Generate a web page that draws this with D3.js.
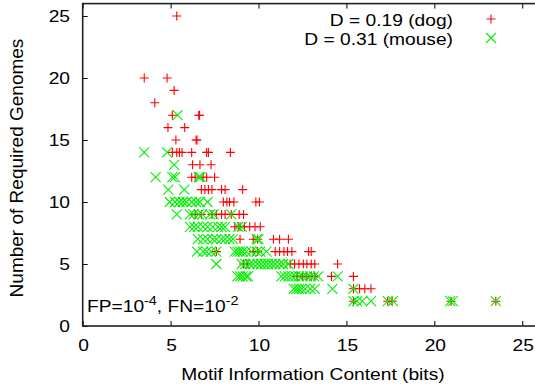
<!DOCTYPE html>
<html><head><meta charset="utf-8">
<script src="https://cdn.jsdelivr.net/npm/d3@7"></script>
<style>
html,body{margin:0;padding:0;background:#fff;}
svg text{font-family:"Liberation Sans",Arial,Helvetica,sans-serif;fill:#000;}
</style></head>
<body><svg id="c" width="535" height="386"></svg>
<script>
// Data: [information content (bits), number of required genomes]
const dogPoints = [
  [5.35,25],
  [3.5,20],[4.8,20],
  [5.2,19],
  [4.1,18],
  [5.1,17],[6.6,17],[6.65,17],
  [4.85,16],[5.8,16],
  [5.3,15],[6.45,15],[6.5,15],
  [5.1,14],[5.35,14],[5.5,14],[5.65,14],[6.2,14],[7.05,14],[7.15,14],[8.4,14],
  [6.25,13],[6.67,13],[7.3,13],
  [6.2,12],[6.4,12],[6.85,12],[7.05,12],[7.5,12],
  [6.75,11],[6.95,11],[7.15,11],[7.35,11],[7.9,11],[8.1,11],[9.1,11],
  [8.0,10],[8.2,10],[8.35,10],[8.6,10],[9.85,10],[10.05,10],
  [6.4,9],[6.75,9],[7.35,9],[7.6,9],[7.9,9],[8.1,9],[8.45,9],[8.9,9],[9.15,9],
  [8.65,8],[8.85,8],[8.95,8],[9.2,8],[9.5,8],[9.8,8],[10.1,8],
  [8.95,7],[9.7,7],[9.95,7],[10.85,7],[11.2,7],[11.7,7],
  [7.6,6],[9.7,6],[9.95,6],[10.95,6],[11.2,6],[11.45,6],[11.65,6],[11.9,6],[12.85,6],[13.0,6],
  [9.15,5],[9.35,5],[11.8,5],[12.05,5],[12.3,5],[12.55,5],[12.75,5],[13.0,5],[13.2,5],[14.5,5],
  [12.2,4],[12.5,4],[12.75,4],[13.0,4],[13.2,4],[14.15,4],[15.4,4],
  [15.4,3],[15.75,3],[16.05,3],[16.4,3],
  [15.4,2],[17.35,2],[17.6,2],[20.95,2],[23.5,2]
];
const mousePoints = [
  [5.4,17],
  [3.5,14],[4.8,14],
  [5.2,13],
  [4.15,12],[5.1,12],[5.25,12],[6.6,12],[6.7,12],
  [4.87,11],[5.78,11],
  [4.95,10],[5.25,10],[5.5,10],[5.7,10],[5.9,10],[6.2,10],[6.45,10],[6.65,10],[7.1,10],
  [5.35,9],[6.1,9],[6.3,9],[6.6,9],[6.8,9],[7.25,9],[7.45,9],[8.45,9],
  [6.1,8],[6.35,8],[6.55,8],[6.85,8],[7.1,8],[7.4,8],[7.7,8],[7.9,8],[8.1,8],[8.85,8],[9.05,8],
  [6.55,7],[6.85,7],[7.1,7],[7.4,7],[7.6,7],[7.9,7],[8.1,7],[8.35,7],[8.55,7],[9.9,7],[10.0,7],
  [6.5,6],[6.85,6],[7.05,6],[7.3,6],[7.6,6],[8.65,6],[8.8,6],[8.95,6],[9.1,6],[9.3,6],[9.6,6],[9.9,6],[10.1,6],[10.45,6],
  [7.6,5],[9.05,5],[9.25,5],[9.5,5],[9.7,5],[9.95,5],[10.15,5],[10.35,5],[10.55,5],[10.75,5],[10.95,5],[11.2,5],[11.4,5],[11.7,5],
  [8.8,4],[8.95,4],[9.1,4],[9.3,4],[9.4,4],[11.3,4],[11.5,4],[11.7,4],[11.9,4],[12.1,4],[12.3,4],[12.5,4],[12.75,4],[12.95,4],[13.15,4],[13.4,4],[14.5,4],
  [12.0,3],[12.15,3],[12.3,3],[12.45,3],[12.65,3],[12.95,3],[13.2,3],[14.2,3],[15.4,3],
  [15.4,2],[15.6,2],[15.9,2],[16.4,2],[17.35,2],[17.65,2],[20.9,2],[21.05,2],[23.5,2]
];
const xTicks = [0,5,10,15,20,25];
const yTicks = [0,5,10,15,20,25];
const seriesLabels = ["D = 0.19 (dog)", "D = 0.31 (mouse)"];
const xTitle = "Motif Information Content (bits)";
const yTitle = "Number of Required Genomes";

const svg = d3.select("#c");
const SX = 1.2; // horizontal stretch of the reference
const x = d3.scaleLinear().domain([0,26]).range([82.7, 539.8]);
const y = d3.scaleLinear().domain([0,26]).range([326, 3.6]);

function txt(g, s, px, py, anchor, size) {
  return g.append("text")
    .attr("transform", `translate(${px},${py}) scale(${SX},1)`)
    .attr("text-anchor", anchor).attr("font-size", size).text(s);
}

// points
const gp = svg.append("g");
const plusPath = "M-4.5,0H4.5M0,-4.5V4.5";
const crossPath = "M-5,-5L5,5M-5,5L5,-5";
gp.selectAll("path.dog").data(dogPoints).join("path").attr("class","dog")
  .attr("d", plusPath).attr("transform", d => `translate(${x(d[0])},${y(d[1])})`)
  .attr("stroke", "#ff0000").attr("stroke-width", 1.1).attr("fill","none");
gp.selectAll("path.mouse").data(mousePoints).join("path").attr("class","mouse")
  .attr("d", crossPath).attr("transform", d => `translate(${x(d[0])},${y(d[1])})`)
  .attr("stroke", "#00f000").attr("stroke-width", 1.1).attr("fill","none");

// axes ticks (inward)
const gxB = svg.append("g").attr("transform", `translate(0,${y(0)})`)
  .call(d3.axisBottom(x).tickValues(xTicks).tickSize(-5).tickFormat(""));
const gxT = svg.append("g").attr("transform", `translate(0,${y(26)})`)
  .call(d3.axisTop(x).tickValues(xTicks).tickSize(-5).tickFormat(""));
const gyL = svg.append("g").attr("transform", `translate(${x(0)},0)`)
  .call(d3.axisLeft(y).tickValues(yTicks).tickSize(-5).tickFormat(""));
[gxB,gxT,gyL].forEach(g => { g.select(".domain").remove(); g.selectAll("line").attr("stroke","#000").attr("stroke-width",1); });

// frame
svg.append("rect").attr("x", x(0)).attr("y", y(26)).attr("width", x(26)-x(0)).attr("height", y(0)-y(26))
  .attr("fill","none").attr("stroke","#222").attr("stroke-width",1.6);

// tick labels
xTicks.forEach(v => txt(svg, String(v), x(v)+1, 351, "middle", 16));
yTicks.forEach(v => txt(svg, String(v), 70, y(v)+6, "end", 16));

// axis titles
txt(svg, xTitle, 313, 380, "middle", 16);
svg.append("text").attr("transform", "translate(23,168) rotate(-90)")
  .attr("text-anchor","middle").attr("font-size", 19).text(yTitle);

// legend
const lg = svg.append("g");
txt(lg, seriesLabels[0], 453, 26, "end", 16);
txt(lg, seriesLabels[1], 453, 45, "end", 16);
lg.append("path").attr("d", plusPath).attr("transform", `translate(491,19)`)
  .attr("stroke","#ff0000").attr("stroke-width",1.1).attr("fill","none");
lg.append("path").attr("d", crossPath).attr("transform", `translate(491,38)`)
  .attr("stroke","#00f000").attr("stroke-width",1.1).attr("fill","none");

// annotation FP / FN
const an = svg.append("text")
  .attr("transform", `translate(87,312) scale(${SX},1)`).attr("font-size", 16);
an.append("tspan").text("FP=10");
an.append("tspan").attr("dy", -7).attr("font-size", 12).text("-4");
an.append("tspan").attr("dy", 7).text(", FN=10");
an.append("tspan").attr("dy", -7).attr("font-size", 12).text("-2");
</script></body></html>
